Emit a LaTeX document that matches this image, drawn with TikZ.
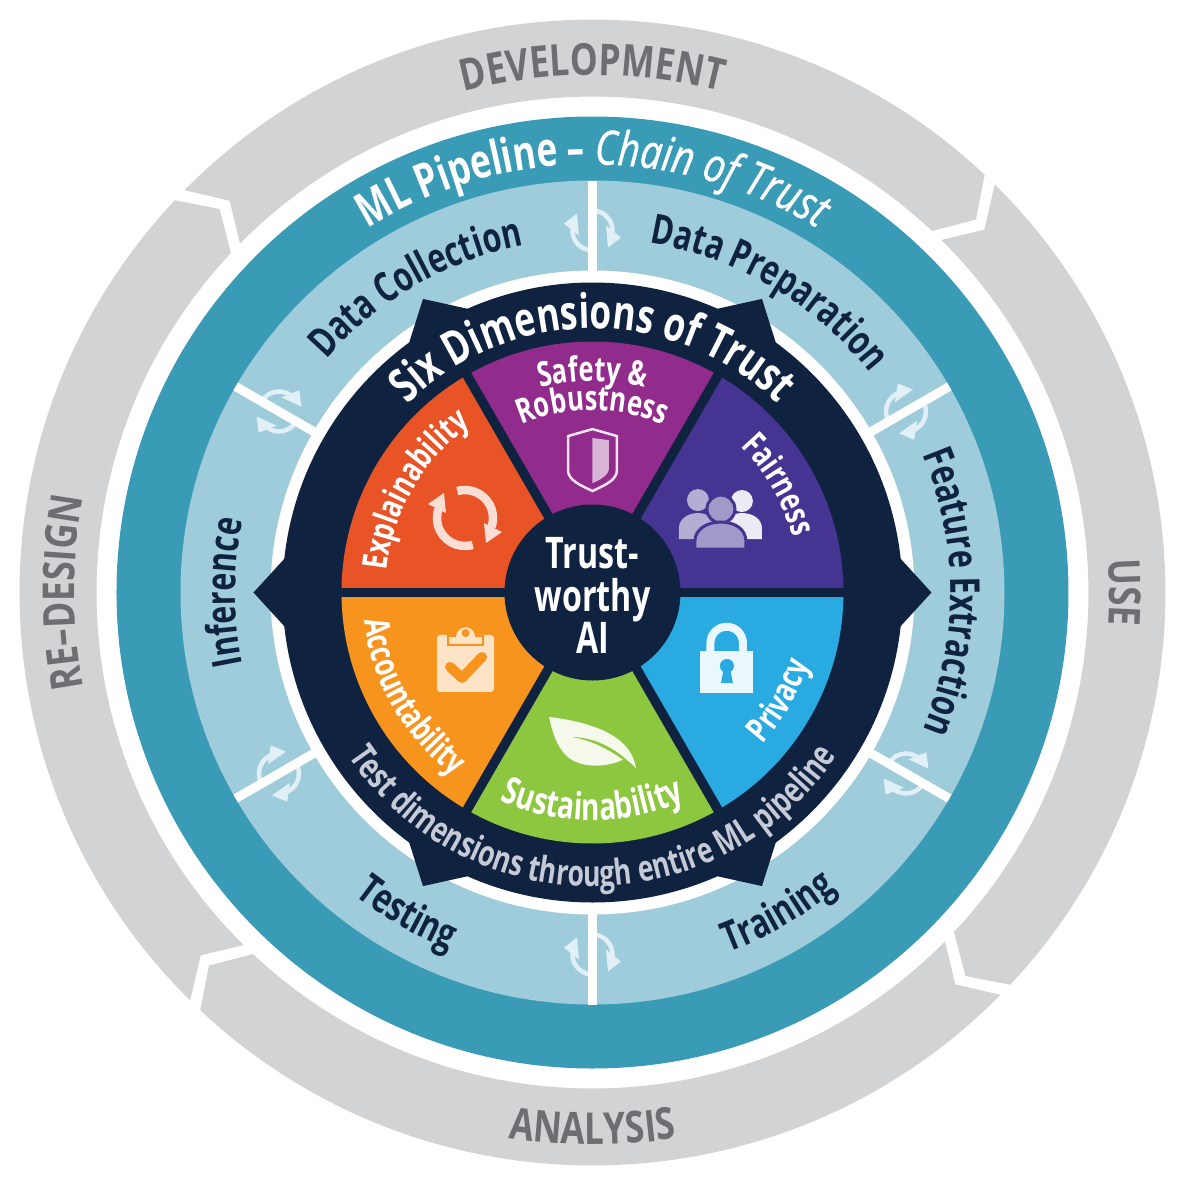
\documentclass[tikz,border=0pt]{standalone}
\usepackage{fontspec}
\setmainfont[FakeStretch=0.8]{Open Sans}
\newfontfamily\semifont[FakeStretch=0.74]{Open Sans Bold}
\newfontfamily\semislant[FakeStretch=0.8,FakeBold=0.8,ItalicFont={Open Sans Italic}]{Open Sans}
\usetikzlibrary{decorations.text}
\definecolor{ringgray}{HTML}{D1D3D4}
\definecolor{labelgray}{HTML}{6D6E71}
\definecolor{pipeteal}{HTML}{3A9BB6}
\definecolor{pipelight}{HTML}{9ECCDB}
\definecolor{trustnavy}{HTML}{0F2341}
\definecolor{testgray}{HTML}{C5CAD6}
\definecolor{iconblue}{HTML}{E1F0F6}
\definecolor{explcol}{HTML}{E85426}
\definecolor{safecol}{HTML}{912B8C}
\definecolor{faircol}{HTML}{453491}
\definecolor{privcol}{HTML}{29ABE2}
\definecolor{sustcol}{HTML}{8DC63F}
\definecolor{acctcol}{HTML}{F7941E}
\newcommand{\cwlabel}[4]{\path[decorate,decoration={text along path,text align=center,text={|#3|#4}}] (#1+70:#2) arc (#1+70:#1-70:#2);}
\newcommand{\ccwlabel}[4]{\path[decorate,decoration={text along path,text align=center,text={|#3|#4}}] (#1-70:#2) arc (#1-70:#1+70:#2);}
\newcommand{\grayfmt}{\bfseries\fontsize{12.5}{15}\selectfont\color{labelgray}}
\newcommand{\stagefmt}{\semifont\fontsize{11.7}{14}\selectfont\color{trustnavy}}
\newcommand{\dimfmt}{\semifont\fontsize{9.8}{12}\selectfont\color{white}}
\begin{document}
\begin{tikzpicture}[px/.style={x=0.01cm,y=-0.01cm,shift={(-592.5,-592.5)}}]
  \useasboundingbox (-5.925,-5.925) rectangle (5.925,5.925);
  \foreach \a in {0,90,180,270} {
    \fill[ringgray,rotate=\a] (135.4:5.73) arc (135.4:46.8:5.73) -- (44.2:5.35) -- (46.8:4.96)
      arc (46.8:135.3:4.96) -- (132.8:5.34) -- cycle;
  }
  \fill[pipeteal] (0,0) circle (4.76);
  \fill[pipelight] (0,0) circle (4.12);
  \fill[white] (0,0) circle (3.22);
  \foreach \a in {30,90,150,210,270,330} {
    \begin{scope}[rotate=\a-90,shift={(0,3.62)}]
      \foreach \r in {0,180} {
        \begin{scope}[rotate=\r]
          \draw[iconblue,line width=.045cm] (0,-.2) arc (270:172:.2);
          \fill[iconblue] (-.285,.07) -- (-.135,-.05) -- (-.155,.17) -- cycle;
        \end{scope}
      }
      \draw[white,line width=.09cm] (0,-.42) -- (0,.5);
    \end{scope}
  }
  \fill[trustnavy] (0,0) circle (3.10);
  \foreach \a in {0,60,...,300} {
    \fill[trustnavy] (\a-6.5:3.09) -- (\a:3.39) -- (\a+6.5:3.09) -- cycle;
  }
  \foreach \a/\c in {120/explcol,60/safecol,0/faircol,-60/privcol,-120/sustcol,180/acctcol} {
    \fill[\c] (0,0) -- (\a:2.51) arc (\a:\a+60:2.51) -- cycle;
  }
  \foreach \a in {0,60,120} {
    \draw[trustnavy,line width=.095cm] (\a:2.6) -- (\a+180:2.6);
  }
  \fill[trustnavy] (0,0) circle (.88);
  \node[white,align=center,font=\semifont\fontsize{12.4}{12}\selectfont] (trustai) at (0,-.03) {Trust-\\worthy\\AI};
  % grey stages
  \cwlabel{90}{5.17}{\grayfmt}{DEVELOPMENT}
  \cwlabel{0}{5.17}{\grayfmt}{USE}
  \cwlabel{180}{5.18}{\grayfmt}{RE–DESIGN}
  \ccwlabel{270}{5.52}{\grayfmt}{ANALYSIS}
  % pipeline
  \cwlabel{90}{4.28}{\semifont\fontsize{13.5}{16}\selectfont\color{white}}{ML Pipeline – |\semislant\itshape\fontsize{13.5}{16}\selectfont\color{white}|Chain of Trust}
  \cwlabel{120}{3.54}{\stagefmt}{Data Collection}
  \cwlabel{59.5}{3.54}{\stagefmt}{Data Preparation}
  \cwlabel{0}{3.58}{\stagefmt}{Feature Extraction}
  \cwlabel{180}{3.57}{\stagefmt}{Inference}
  \ccwlabel{240}{3.85}{\stagefmt}{Testing}
  \ccwlabel{300}{3.85}{\stagefmt}{Training}
  % dimensions
  \cwlabel{90}{2.64}{\semifont\fontsize{13.5}{15}\selectfont\color{white}}{Six Dimensions of Trust}
  \ccwlabel{270}{2.94}{\semifont\fontsize{10.2}{12}\selectfont\color{testgray}}{Test dimensions through entire ML pipeline}
  \cwlabel{90}{2.11}{\dimfmt}{Safety {\&}}
  \cwlabel{90}{1.82}{\dimfmt}{Robustness}
  \cwlabel{150}{2.07}{\dimfmt}{Explainability}
  \cwlabel{30}{2.08}{\dimfmt}{Fairness}
  \ccwlabel{330}{2.28}{\dimfmt}{Privacy}
  \ccwlabel{270}{2.28}{\semifont\fontsize{10.7}{12}\selectfont\color{white}}{Sustainability}
  \ccwlabel{210}{2.30}{\dimfmt}{Accountability}
  % refresh icon
  \foreach \r in {0,180} {
    \begin{scope}[shift={(-1.275,.745)},rotate=\r]
      \draw[explcol!20,line width=.085cm] (106:.28) arc (106:-19:.28);
      \fill[explcol!20] (.19,-.05) -- (.37,-.14) -- (.21,-.25) -- cycle;
    \end{scope}
  }
  \begin{scope}[px]
    % shield
    \draw[safecol!12,line width=.025cm] (592.5,429) -- (617,436) -- (617,470) .. controls (617,480) and (605,485) .. (592.5,491)
      .. controls (580,485) and (568,480) .. (568,470) -- (568,436) -- cycle;
    \fill[safecol!35] (592.5,438) -- (609,440) -- (609,468) .. controls (609,475) and (600,480) .. (592.5,483) -- cycle;
    % people
    \fill[faircol!40] (698,500) circle (11);
    \fill[faircol!40] (679,539) -- (679,528) .. controls (679,519) and (688,513) .. (698,513)
      .. controls (708,513) and (715,519) .. (715,528) -- (715,539) -- cycle;
    \fill[faircol!10] (742,501) circle (11);
    \fill[faircol!10] (762,539) -- (762,528) .. controls (762,519) and (753,513) .. (742,513)
      .. controls (732,513) and (725,519) .. (725,528) -- (725,539) -- cycle;
    \draw[faircol,fill=faircol!50,line width=.03cm] (721,509) circle (14);
    \draw[faircol,fill=faircol!50,line width=.03cm] (695,549) -- (695,541) .. controls (695,530) and (706,522) .. (721,522)
      .. controls (736,522) and (746,530) .. (746,541) -- (746,549) -- cycle;
    % lock
    \draw[privcol!10,line width=.08cm] (710.5,655) -- (710.5,643) arc (180:360:16.25) -- (743,655);
    \fill[privcol!10] (700,651) rectangle (753,693);
    \fill[privcol] (727,666) circle (7);
    \fill[privcol] (724,668) -- (730,668) -- (733,683) -- (721,683) -- cycle;
    % clipboard
    \fill[acctcol!25,rounded corners=.03cm] (437,635) rectangle (494,692);
    \draw[acctcol,fill=acctcol!25,line width=.02cm] (448,645) -- (448,636) -- (455,636) .. controls (456,623) and (475,623) .. (476,636)
      -- (483,636) -- (483,645) -- cycle;
    \fill[acctcol] (465.5,633) circle (4);
    \draw[acctcol,line width=.1cm,line cap=round,line join=round] (450,667) -- (462,678) -- (482,657);
    % leaf
    \fill[sustcol!10] (549,717) .. controls (590,722) and (632,735) .. (636,769) .. controls (630,760) and (622,758) .. (618,762)
      .. controls (600,768) and (575,768) .. (563,752) .. controls (555,742) and (552,730) .. (549,717) -- cycle;
    \fill[sustcol] (572,737) .. controls (600,738) and (620,752) .. (636,769) .. controls (618,756) and (600,742) .. (572,737) -- cycle;
  \end{scope}
\end{tikzpicture}
\end{document}
